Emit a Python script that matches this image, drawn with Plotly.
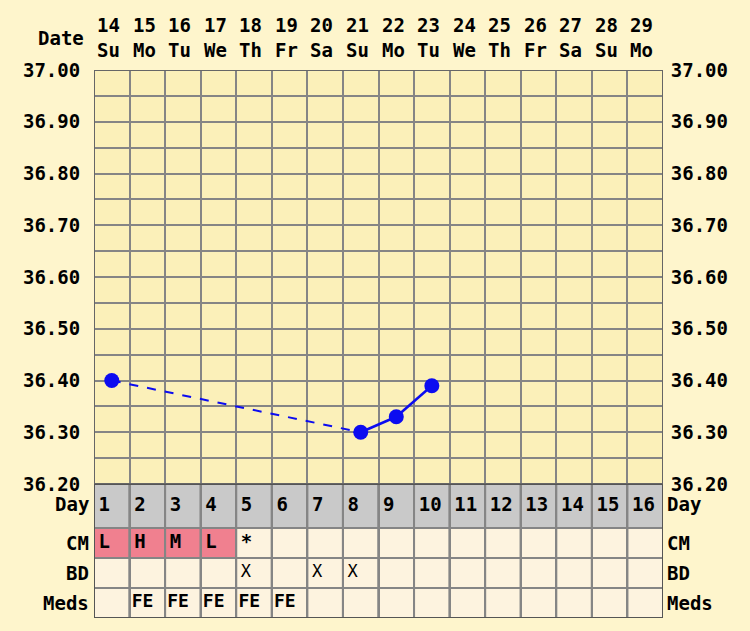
import numpy as np
import plotly.graph_objects as go

# chart data
dates = list(range(14, 30))
weekdays = ["Su", "Mo", "Tu", "We", "Th", "Fr", "Sa", "Su", "Mo", "Tu", "We", "Th", "Fr", "Sa", "Su", "Mo"]
cycle_days = list(range(1, 17))
temp_dates = [14, 21, 22, 23]
temps = [36.40, 36.30, 36.33, 36.39]
cm = ["L", "H", "M", "L", "*", "", "", "", "", "", "", "", "", "", "", ""]
bd = ["", "", "", "", "X", "", "X", "X", "", "", "", "", "", "", "", ""]
meds = ["", "FE", "FE", "FE", "FE", "FE", "", "", "", "", "", "", "", "", "", ""]
row_labels = ["Day", "CM", "BD", "Meds"]

PAGE = "#fef5cc"
TEMP_BG = "#fbf0b9"
CELL = "#fdf3df"
GREY_ROW = "#c9c9c9"
PINK = "#f0808f"
GRID = "#858585"
BLUE = "#0c0cf0"
FONT = "DejaVu Sans Mono"

day0 = dates[0] - 1
tx = [d - day0 for d in temp_dates]

fig = go.Figure()

# temperature lines: dashed across missing days, solid otherwise
for i in range(len(tx) - 1):
    gap = tx[i + 1] - tx[i] > 1
    fig.add_trace(go.Scatter(x=[tx[i], tx[i + 1]], y=[temps[i], temps[i + 1]], mode="lines",
                             line=dict(color=BLUE, width=2 if gap else 2.5, dash="dash" if gap else "solid"),
                             hoverinfo="skip", showlegend=False))
fig.add_trace(go.Scatter(x=tx, y=temps, mode="markers", marker=dict(color=BLUE, size=15),
                         showlegend=False))
# invisible trace so the right-hand axis is drawn
fig.add_trace(go.Scatter(x=tx, y=temps, yaxis="y3", mode="markers", marker=dict(opacity=0),
                         hoverinfo="skip", showlegend=False))

# table rows (y2 units = pixels of row height)
rows = {"Day": (90, 134), "CM": (60, 90), "BD": (30, 60), "Meds": (0, 30)}
shapes = []
for c in cycle_days:
    for name, (y0, y1) in rows.items():
        if name == "Day":
            fill = GREY_ROW
        elif name == "CM" and cm[c - 1] not in ("", "*"):
            fill = PINK
        else:
            fill = CELL
        shapes.append(dict(type="rect", xref="x", yref="y2", x0=c - 0.5, x1=c + 0.5, y0=y0, y1=y1,
                           fillcolor=fill, line=dict(color=GRID, width=2), layer="below"))
shapes.append(dict(type="rect", xref="x", yref="y2", x0=0.5, x1=16.5, y0=0, y1=134,
                   line=dict(color="#555555", width=2)))
shapes.append(dict(type="rect", xref="x", yref="y", x0=0.5, x1=16.5, y0=36.2, y1=37.0,
                   line=dict(color="#666666", width=2)))

def row_mid(name):
    return sum(rows[name]) / 2

bold = dict(family=FONT, size=19, color="black", weight="bold")

def cell_text(name, text, font, pad):
    # text sits near the left edge of each cell
    fig.add_trace(go.Scatter(x=[c - 0.5 + pad for c in cycle_days], y=[row_mid(name)] * 16,
                             yaxis="y2", mode="text", text=text, textposition="middle right",
                             textfont=font, hoverinfo="skip", showlegend=False))

cell_text("Day", [str(d) for d in cycle_days], bold, 0.13)
cell_text("CM", cm, bold, 0.13)
cell_text("BD", bd, dict(family=FONT, size=17, color="black"), 0.13)
cell_text("Meds", meds, dict(family=FONT, size=18, color="black", weight="bold"), 0.06)

annotations = []
for c, d, w in zip(cycle_days, dates, weekdays):
    annotations.append(dict(x=c - 0.5, xref="x", xanchor="left", xshift=1, y=1, yref="paper", yshift=45,
                            text=str(d), showarrow=False, font=bold, yanchor="middle"))
    annotations.append(dict(x=c - 0.5, xref="x", xanchor="left", xshift=1, y=1, yref="paper", yshift=20,
                            text=w, showarrow=False, font=bold, yanchor="middle"))
annotations.append(dict(x=0, xref="paper", xanchor="right", xshift=-8, y=1, yref="paper", yshift=32,
                        text="Date", showarrow=False, font=bold, yanchor="middle"))
for name in row_labels:
    ys = row_mid(name) + (2 if name == "Day" else 0)
    annotations.append(dict(x=0, xref="paper", xanchor="right", xshift=-3, y=ys, yref="y2",
                            text=name, showarrow=False, font=bold, yanchor="middle"))
    annotations.append(dict(x=1, xref="paper", xanchor="left", xshift=2, y=ys, yref="y2",
                            text=name, showarrow=False, font=bold, yanchor="middle"))

fig.update_layout(
    width=750, height=631,
    margin=dict(l=94, r=87, t=70, b=13),
    paper_bgcolor=PAGE, plot_bgcolor=TEMP_BG,
    shapes=shapes, annotations=annotations,
    xaxis=dict(range=[0.5, 16.5], tickvals=[c + 0.5 for c in range(0, 17)], showticklabels=False,
               showgrid=True, gridcolor=GRID, gridwidth=2, zeroline=False, ticks="", showline=False,
               fixedrange=True, automargin=False),
    yaxis=dict(domain=[0.2445, 1], range=[36.2, 37.0], dtick=0.1, tick0=36.2, tickformat=".2f",
               showgrid=True, gridcolor=GRID, gridwidth=2, zeroline=False, ticks="outside",
               ticklen=9, tickcolor="rgba(0,0,0,0)", tickfont=bold, automargin=False,
               minor=dict(dtick=0.05, tick0=36.2, showgrid=True, gridcolor=GRID, gridwidth=2)),
    yaxis3=dict(overlaying="y", side="right", range=[36.2, 37.0], dtick=0.1, tick0=36.2,
                tickformat=".2f", showgrid=False, zeroline=False, ticks="outside", ticklen=3,
                tickcolor="rgba(0,0,0,0)", tickfont=bold, anchor="x", automargin=False),
    yaxis2=dict(domain=[0, 0.2445], range=[0, 134], visible=False, fixedrange=True, anchor="x",
                automargin=False),
)

fig.write_html("out.html", config={"displayModeBar": False},
               post_script="document.body.style.margin='0';"
                           "document.body.style.background='%s';" % PAGE)
